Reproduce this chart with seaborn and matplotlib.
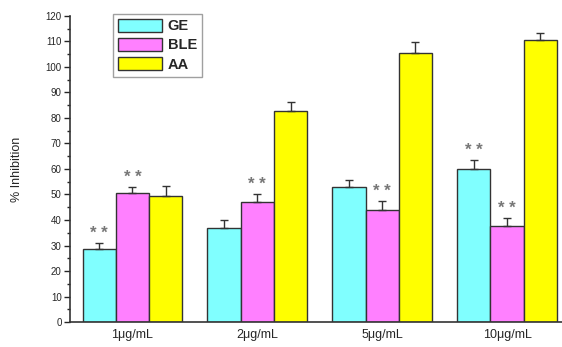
import numpy as np
import matplotlib
matplotlib.use('Agg')
import matplotlib.pyplot as plt
import seaborn as sns
import pandas as pd

doses = ['1\u03bcg/mL', '2\u03bcg/mL', '5\u03bcg/mL', '10\u03bcg/mL']
extracts = ['GE', 'BLE', 'AA']
ge = [28.5, 37.0, 52.9, 59.9]
ble = [50.5, 47.0, 43.8, 37.7]
aa = [49.6, 82.8, 105.5, 110.7]
ge_err = [2.4, 3.0, 2.7, 3.6]
ble_err = [2.3, 3.1, 3.7, 3.0]
aa_err = [3.9, 3.3, 4.3, 2.6]
# which bars carry "**"
ge_sig = [True, False, False, True]
ble_sig = [True, True, True, True]
aa_sig = [False, False, False, False]

colors = ['#80FFFF', '#FF80FF', '#FFFF00']

rows = []
for name, vals, errs, sig in [('GE', ge, ge_err, ge_sig), ('BLE', ble, ble_err, ble_sig), ('AA', aa, aa_err, aa_sig)]:
    for d, v, e, s in zip(doses, vals, errs, sig):
        rows.append({'dose': d, 'extract': name, 'value': v, 'err': e, 'sig': s})
df = pd.DataFrame(rows)

sns.set_style('white')
plt.rcParams['font.family'] = ['Liberation Sans', 'DejaVu Sans']

fig = plt.figure(figsize=(5.62, 3.47), dpi=100)
ax = fig.add_axes([0.1246, 0.072, 0.882, 0.882])

sns.barplot(data=df, x='dose', y='value', hue='extract', order=doses, hue_order=extracts,
            palette=colors, errorbar=None, width=0.8, edgecolor='#333333', linewidth=1.0,
            saturation=1, ax=ax)

for cont, name in zip(ax.containers, extracts):
    sub = df[df['extract'] == name].set_index('dose').loc[doses]
    xs = [p.get_x() + p.get_width() / 2 for p in cont.patches]
    ax.errorbar(xs, sub['value'], yerr=[np.zeros(len(xs)), sub['err']], fmt='none',
                ecolor='#333333', elinewidth=1.0, capsize=3, capthick=1.0)
    for x, v, e, s in zip(xs, sub['value'], sub['err'], sub['sig']):
        if s:
            ax.text(x, v + e + 0.8, '* *', ha='center', va='bottom', fontsize=12,
                    fontweight='bold', color='#777777')

ax.set_ylim(0, 120)
ax.set_xlim(-0.5, 3.47)
ax.set_yticks(np.arange(0, 121, 10))
ax.set_yticks(np.arange(0, 121, 5), minor=True)
ax.tick_params(axis='y', which='major', direction='out', length=4, width=1, labelsize=7, left=True, pad=2)
ax.tick_params(axis='y', which='minor', direction='out', length=2, width=1, left=True)
ax.tick_params(axis='x', length=0, labelsize=9, pad=5)
for s in ['top', 'right']:
    ax.spines[s].set_visible(False)
for s in ['left', 'bottom']:
    ax.spines[s].set_color('#333333')
    ax.spines[s].set_linewidth(1.2)
ax.set_xlabel('')
ax.set_ylabel('% Inhibition', fontsize=9, labelpad=16)

leg = ax.legend(loc='upper left', bbox_to_anchor=(0.087, 1.008), frameon=True, fancybox=False,
                edgecolor='#888888', handlelength=3.0, handleheight=1.05, handletextpad=0.4,
                labelspacing=0.3, borderpad=0.35, borderaxespad=0,
                prop={'weight': 'bold', 'size': 10.5})
leg.get_frame().set_linewidth(1.0)

fig.savefig('out.png', dpi=100)
